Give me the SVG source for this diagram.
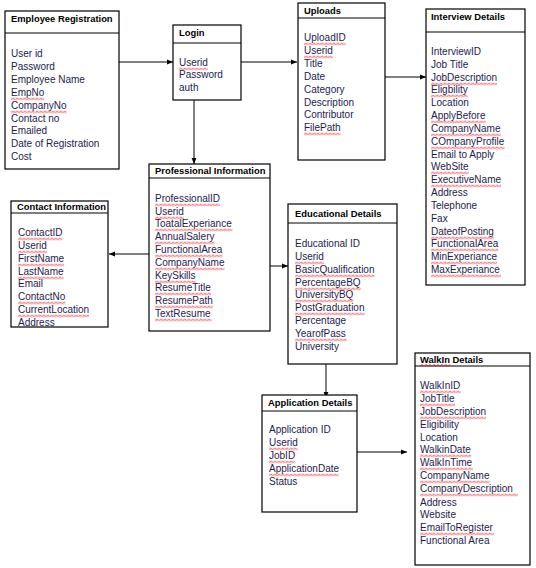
<svg xmlns="http://www.w3.org/2000/svg" width="536" height="568" viewBox="0 0 536 568">
<defs>
<style>
.box{fill:#fff;stroke:#000;stroke-width:1.2}
.sep{stroke:#000;stroke-width:1.2}
.t{font-family:"Liberation Sans",Arial,sans-serif;font-size:9.4px;font-weight:bold;fill:#000}
.i{font-family:"Liberation Sans",Arial,sans-serif;font-size:10px;fill:#1c1c4c}
.w{fill:url(#wv)}
.c{stroke:#000;stroke-width:1;fill:none;marker-end:url(#ah)}
</style>
<pattern id="wv" width="4" height="3" patternUnits="userSpaceOnUse">
<path d="M0,2.5 L2,0.5 L4,2.5" fill="none" stroke="#e00000" stroke-width="0.9"/>
</pattern>
<marker id="ah" viewBox="0 0 10 10" refX="10" refY="5" markerWidth="6" markerHeight="6" orient="auto" markerUnits="userSpaceOnUse">
<path d="M0,1 L10,5 L0,9 z" fill="#000"/>
</marker>
</defs>
<rect width="536" height="568" fill="#fff"/>

<g id="connectors">
<line class="c" x1="119" y1="62" x2="173" y2="62"/>
<line class="c" x1="241" y1="62" x2="297" y2="62"/>
<line class="c" x1="194" y1="100" x2="194" y2="164"/>
<line class="c" x1="385" y1="77" x2="426" y2="77"/>
<line class="c" x1="149" y1="254" x2="109" y2="254"/>
<line class="c" x1="270" y1="266" x2="288" y2="266"/>
<line class="c" x1="326" y1="364" x2="326" y2="398"/>
<line class="c" x1="357" y1="452" x2="407" y2="452"/>
</g>

<g id="employee-registration">
<rect class="box" x="5" y="11" width="114" height="158"/>
<line class="sep" x1="5" y1="33" x2="119" y2="33"/>
<text class="t" x="11" y="22">Employee Registration</text>
<text class="i" x="11" y="57">User id</text>
<text class="i" x="11" y="70">Password</text>
<text class="i" x="11" y="83">Employee Name</text>
<text class="i" x="11" y="96">EmpNo</text>
<text class="i" x="11" y="109">CompanyNo</text>
<text class="i" x="11" y="122">Contact no</text>
<text class="i" x="11" y="134">Emailed</text>
<text class="i" x="11" y="147">Date of Registration</text>
<text class="i" x="11" y="160">Cost</text>
<rect class="w" transform="translate(11,97.5)" width="33.3" height="3"/>
<rect class="w" transform="translate(11,110.5)" width="55.6" height="3"/>
</g>

<g id="login">
<rect class="box" x="173" y="25" width="68" height="75"/>
<line class="sep" x1="173" y1="43" x2="241" y2="43"/>
<text class="t" x="179" y="36">Login</text>
<text class="i" x="179" y="66">Userid</text>
<text class="i" x="179" y="78">Password</text>
<text class="i" x="179" y="91">auth</text>
<rect class="w" transform="translate(179,67.5)" width="28.9" height="3"/>
</g>

<g id="uploads">
<rect class="box" x="298" y="3" width="87" height="157"/>
<line class="sep" x1="298" y1="18" x2="385" y2="18"/>
<text class="t" x="304" y="14">Uploads</text>
<text class="i" x="304" y="41">UploadID</text>
<text class="i" x="304" y="54">Userid</text>
<text class="i" x="304" y="67">Title</text>
<text class="i" x="304" y="80">Date</text>
<text class="i" x="304" y="93">Category</text>
<text class="i" x="304" y="106">Description</text>
<text class="i" x="304" y="118">Contributor</text>
<text class="i" x="304" y="131">FilePath</text>
<rect class="w" transform="translate(304,42.5)" width="41.7" height="3"/>
<rect class="w" transform="translate(304,55.5)" width="28.9" height="3"/>
<rect class="w" transform="translate(304,132.5)" width="36.7" height="3"/>
</g>

<g id="interview-details">
<rect class="box" x="426" y="9" width="99" height="276"/>
<line class="sep" x1="426" y1="32" x2="525" y2="32"/>
<text class="t" x="431" y="20">Interview Details</text>
<text class="i" x="431" y="55">InterviewID</text>
<text class="i" x="431" y="68">Job Title</text>
<text class="i" x="431" y="81">JobDescription</text>
<text class="i" x="431" y="93">Eligbility</text>
<text class="i" x="431" y="106">Location</text>
<text class="i" x="431" y="119">ApplyBefore</text>
<text class="i" x="431" y="132">CompanyName</text>
<text class="i" x="431" y="145">COmpanyProfile</text>
<text class="i" x="431" y="158">Email to Apply</text>
<text class="i" x="431" y="170">WebSite</text>
<text class="i" x="431" y="183">ExecutiveName</text>
<text class="i" x="431" y="196">Address</text>
<text class="i" x="431" y="209">Telephone</text>
<text class="i" x="431" y="222">Fax</text>
<text class="i" x="431" y="235">DateofPosting</text>
<text class="i" x="431" y="247">FunctionalArea</text>
<text class="i" x="431" y="260">MinExperiance</text>
<text class="i" x="431" y="273">MaxExperiance</text>
<rect class="w" transform="translate(431,82.5)" width="66.1" height="3"/>
<rect class="w" transform="translate(431,94.5)" width="36.7" height="3"/>
<rect class="w" transform="translate(431,120.5)" width="54.5" height="3"/>
<rect class="w" transform="translate(431,133.5)" width="69.5" height="3"/>
<rect class="w" transform="translate(431,146.5)" width="73.4" height="3"/>
<rect class="w" transform="translate(431,171.5)" width="37.8" height="3"/>
<rect class="w" transform="translate(431,184.5)" width="70" height="3"/>
<rect class="w" transform="translate(431,236.5)" width="62.8" height="3"/>
<rect class="w" transform="translate(431,248.5)" width="67.3" height="3"/>
<rect class="w" transform="translate(431,261.5)" width="66.1" height="3"/>
<rect class="w" transform="translate(431,274.5)" width="70" height="3"/>
</g>

<g id="contact-information">
<rect class="box" x="11" y="201" width="97" height="126"/>
<line class="sep" x1="11" y1="213" x2="108" y2="213"/>
<text class="t" x="17" y="210">Contact Information</text>
<text class="i" x="18" y="236">ContactID</text>
<text class="i" x="18" y="249">Userid</text>
<text class="i" x="18" y="262">FirstName</text>
<text class="i" x="18" y="275">LastName</text>
<text class="i" x="18" y="287">Email</text>
<text class="i" x="18" y="300">ContactNo</text>
<text class="i" x="18" y="313">CurrentLocation</text>
<text class="i" x="18" y="326">Address</text>
<rect class="w" transform="translate(18,237.5)" width="44.5" height="3"/>
<rect class="w" transform="translate(18,250.5)" width="28.9" height="3"/>
<rect class="w" transform="translate(18,263.5)" width="46.1" height="3"/>
<rect class="w" transform="translate(18,276.5)" width="45.6" height="3"/>
<rect class="w" transform="translate(18,301.5)" width="47.2" height="3"/>
<rect class="w" transform="translate(18,314.5)" width="71.1" height="3"/>
</g>

<g id="professional-information">
<rect class="box" x="149" y="164" width="121" height="167"/>
<line class="sep" x1="149" y1="178" x2="270" y2="178"/>
<text class="t" x="155" y="174">Professional Information</text>
<text class="i" x="155" y="202">ProfessionalID</text>
<text class="i" x="155" y="215">Userid</text>
<text class="i" x="155" y="227">ToatalExperiance</text>
<text class="i" x="155" y="240">AnnualSalery</text>
<text class="i" x="155" y="253">FunctionalArea</text>
<text class="i" x="155" y="266">CompanyName</text>
<text class="i" x="155" y="279">KeySkills</text>
<text class="i" x="155" y="291">ResumeTitle</text>
<text class="i" x="155" y="304">ResumePath</text>
<text class="i" x="155" y="317">TextResume</text>
<rect class="w" transform="translate(155,203.5)" width="65" height="3"/>
<rect class="w" transform="translate(155,216.5)" width="28.9" height="3"/>
<rect class="w" transform="translate(155,228.5)" width="77.3" height="3"/>
<rect class="w" transform="translate(155,241.5)" width="59.5" height="3"/>
<rect class="w" transform="translate(155,254.5)" width="67.3" height="3"/>
<rect class="w" transform="translate(155,267.5)" width="69.5" height="3"/>
<rect class="w" transform="translate(155,280.5)" width="40.6" height="3"/>
<rect class="w" transform="translate(155,292.5)" width="56.1" height="3"/>
<rect class="w" transform="translate(155,305.5)" width="57.8" height="3"/>
<rect class="w" transform="translate(155,318.5)" width="56.7" height="3"/>
</g>

<g id="educational-details">
<rect class="box" x="288" y="204" width="109" height="160"/>
<line class="sep" x1="288" y1="223" x2="397" y2="223"/>
<text class="t" x="295" y="217">Educational Details</text>
<text class="i" x="295" y="247">Educational ID</text>
<text class="i" x="295" y="260">Userid</text>
<text class="i" x="295" y="273">BasicQualification</text>
<text class="i" x="295" y="286">PercentageBQ</text>
<text class="i" x="295" y="298">UniversityBQ</text>
<text class="i" x="295" y="311">PostGraduation</text>
<text class="i" x="295" y="324">Percentage</text>
<text class="i" x="295" y="337">YearofPass</text>
<text class="i" x="295" y="350">University</text>
<rect class="w" transform="translate(295,261.5)" width="28.9" height="3"/>
<rect class="w" transform="translate(295,274.5)" width="79.5" height="3"/>
<rect class="w" transform="translate(295,287.5)" width="65.6" height="3"/>
<rect class="w" transform="translate(295,299.5)" width="58.3" height="3"/>
<rect class="w" transform="translate(295,312.5)" width="69.7" height="3"/>
<rect class="w" transform="translate(295,338.5)" width="51.7" height="3"/>
</g>

<g id="application-details">
<rect class="box" x="262" y="395" width="95" height="117"/>
<line class="sep" x1="262" y1="411" x2="357" y2="411"/>
<text class="t" x="268" y="406">Application Details</text>
<text class="i" x="269" y="433">Application ID</text>
<text class="i" x="269" y="446">Userid</text>
<text class="i" x="269" y="459">JobID</text>
<text class="i" x="269" y="472">ApplicationDate</text>
<text class="i" x="269" y="485">Status</text>
<rect class="w" transform="translate(269,447.5)" width="28.9" height="3"/>
<rect class="w" transform="translate(269,460.5)" width="26.1" height="3"/>
<rect class="w" transform="translate(269,473.5)" width="69.5" height="3"/>
</g>

<g id="walkin-details">
<rect class="box" x="415" y="353" width="115" height="212"/>
<line class="sep" x1="415" y1="366" x2="530" y2="366"/>
<text class="t" x="420" y="363">WalkIn Details</text>
<text class="i" x="420" y="389">WalkInID</text>
<text class="i" x="420" y="402">JobTitle</text>
<text class="i" x="420" y="415">JobDescription</text>
<text class="i" x="420" y="428">Eligibility</text>
<text class="i" x="420" y="441">Location</text>
<text class="i" x="420" y="453">WalkinDate</text>
<text class="i" x="420" y="466">WalkInTime</text>
<text class="i" x="420" y="479">CompanyName</text>
<text class="i" x="420" y="492">CompanyDescription</text>
<text class="i" x="420" y="506">Address</text>
<text class="i" x="420" y="518">Website</text>
<text class="i" x="420" y="531">EmailToRegister</text>
<text class="i" x="420" y="544">Functional Area</text>
<rect class="w" transform="translate(420,364)" width="30.3" height="3"/>
<rect class="w" transform="translate(420,390.5)" width="40.6" height="3"/>
<rect class="w" transform="translate(420,403.5)" width="35" height="3"/>
<rect class="w" transform="translate(420,416.5)" width="66.1" height="3"/>
<rect class="w" transform="translate(420,454.5)" width="51.1" height="3"/>
<rect class="w" transform="translate(420,467.5)" width="52.8" height="3"/>
<rect class="w" transform="translate(420,480.5)" width="69.5" height="3"/>
<rect class="w" transform="translate(420,493.5)" width="97.8" height="3"/>
<rect class="w" transform="translate(420,532.5)" width="73.9" height="3"/>
</g>
</svg>
